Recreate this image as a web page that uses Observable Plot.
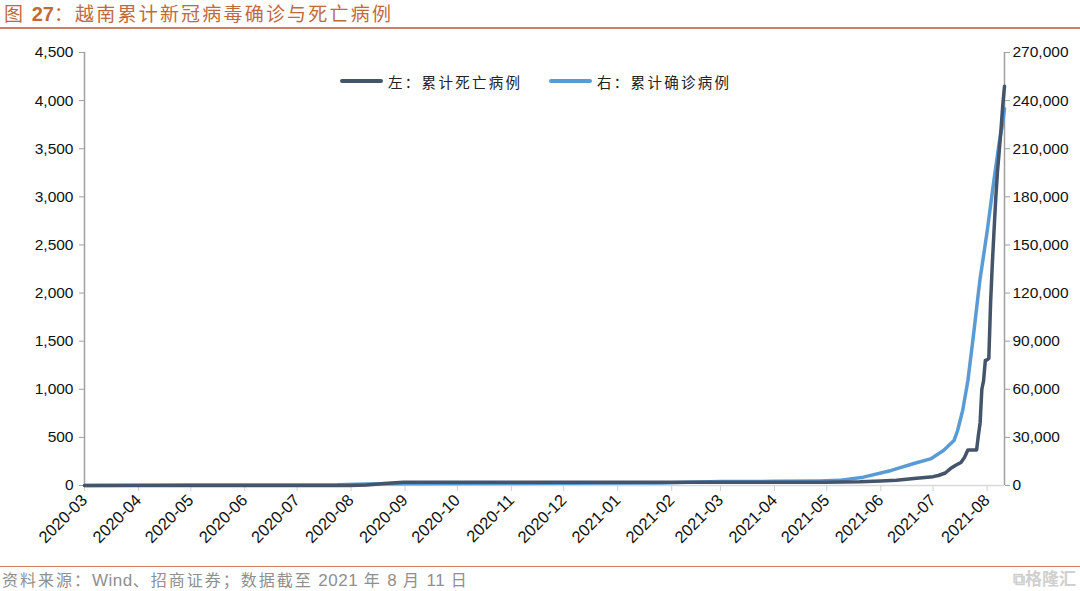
<!DOCTYPE html>
<html><head><meta charset="utf-8">
<script src="https://cdn.jsdelivr.net/npm/d3@7"></script>
<script src="https://cdn.jsdelivr.net/npm/@observablehq/plot@0.6"></script>
<style>
body{margin:0;background:#fff;}
#wrap{position:relative;width:1080px;height:591px;overflow:hidden;font-family:"Liberation Sans",Arial,sans-serif;background:#fff;}
#title{position:absolute;left:4px;top:1px;font-size:19px;line-height:24px;color:#BF6A3D;white-space:nowrap;font-family:"Noto Sans CJK SC",sans-serif;letter-spacing:2.2px;}
#title b{font-family:"Liberation Sans",Arial,sans-serif;font-size:20px;letter-spacing:0;}
#tline{position:absolute;left:0;top:27px;width:1080px;height:2px;background:#C98063;}
#chart{position:absolute;left:0;top:30px;}
.leg{position:absolute;top:71px;font-size:14.5px;color:#222;font-family:"Noto Sans CJK SC",sans-serif;letter-spacing:2.3px;white-space:nowrap;}
.sw{position:absolute;top:79px;height:4px;border-radius:2px;}
#fline{position:absolute;left:0;top:566px;width:1080px;height:1px;background:#C98063;}
#source{position:absolute;left:2px;top:569px;font-size:16px;line-height:20px;color:#8f8f8f;font-family:"Noto Sans CJK SC",sans-serif;letter-spacing:2px;white-space:nowrap;}
#source span{font-family:"Liberation Sans",Arial,sans-serif;font-size:17px;letter-spacing:0.5px;}
#wm{position:absolute;right:4px;top:567px;font-size:17px;line-height:22px;color:#d0d0d0;font-family:"Noto Sans CJK SC",sans-serif;font-weight:bold;}
</style></head>
<body><div id="wrap">
<div id="title">图 <b>27</b>：越南累计新冠病毒确诊与死亡病例</div>
<div id="tline"></div>
<div id="chart"></div>
<div class="sw" style="left:340px;width:43px;background:#44546A"></div>
<div class="leg" style="left:388px">左：累计死亡病例</div>
<div class="sw" style="left:549px;width:43px;background:#5B9BD5"></div>
<div class="leg" style="left:597px">右：累计确诊病例</div>
<div id="fline"></div>
<div id="source">资料来源：<span>Wind</span>、招商证券；数据截至 <span>2021</span> 年 <span>8</span> 月 <span>11</span> 日</div>
<div id="wm">⧉格隆汇</div>
</div>
<script>
// ---- data ----
const deathDates = ["2020-03-01","2020-07-31","2020-08-10","2020-08-20","2020-08-31","2020-09-10","2021-04-30","2021-05-20","2021-06-01","2021-06-10","2021-06-20","2021-07-01","2021-07-04","2021-07-08","2021-07-11","2021-07-14","2021-07-17","2021-07-19","2021-07-20","2021-07-21","2021-07-26","2021-07-27","2021-07-28","2021-07-29","2021-07-30","2021-07-31","2021-08-01","2021-08-02","2021-08-03","2021-08-04","2021-08-05","2021-08-06","2021-08-07","2021-08-08","2021-08-09","2021-08-10","2021-08-11"];
const deathValues = [0,0,5,20,33,35,35,38,47,55,72,92,104,130,176,210,240,290,330,370,370,520,650,1000,1090,1300,1306,1320,1890,2300,2650,2990,3270,3480,3700,3950,4150];

const caseDates = ["2020-03-01","2020-03-31","2020-05-01","2020-07-24","2020-08-10","2020-09-01","2020-12-01","2021-01-27","2021-02-10","2021-03-01","2021-04-01","2021-04-27","2021-05-08","2021-05-22","2021-06-07","2021-06-20","2021-06-30","2021-07-07","2021-07-13","2021-07-15","2021-07-18","2021-07-21","2021-07-24","2021-07-27","2021-07-28","2021-08-01","2021-08-05","2021-08-08","2021-08-10","2021-08-11"];
const caseValues = [16,207,270,420,860,1046,1347,1550,2050,2450,2600,2850,3200,5200,9400,13700,16800,21800,28000,34000,46800,65500,92000,120000,129000,158000,191000,214000,226000,235000];

const xTickLabels = ["2020-03","2020-04","2020-05","2020-06","2020-07","2020-08","2020-09","2020-10","2020-11","2020-12","2021-01","2021-02","2021-03","2021-04","2021-05","2021-06","2021-07","2021-08"];
const leftTicks = [0,500,1000,1500,2000,2500,3000,3500,4000,4500];
const rightTicks = [0,30000,60000,90000,120000,150000,180000,210000,240000,270000];
const xStart = "2020-03-01", xEnd = "2021-08-11";

// ---- build tables ----
const ratio = rightTicks[rightTicks.length-1] / leftTicks[leftTicks.length-1];
const parse = d3.utcParse("%Y-%m-%d");
const deaths = deathDates.map((d,i)=>({date:parse(d), v:deathValues[i]}));
const cases = caseDates.map((d,i)=>({date:parse(d), v:caseValues[i]}));
const xTicks = xTickLabels.map(s=>parse(s+"-01"));
const fmt = d3.format(",");

const chart = Plot.plot({
  width:1080, height:530,
  marginLeft:84, marginRight:76, marginTop:22, marginBottom:75,
  style:{fontFamily:'"Liberation Sans", Arial, sans-serif', fontSize:"15px", color:"#111", background:"#fff"},
  x:{type:"utc", domain:[parse(xStart), parse(xEnd)]},
  y:{domain:[0, leftTicks[leftTicks.length-1]]},
  marks:[
    Plot.ruleY([0], {stroke:"#d9d9d9", strokeWidth:1.5}),
    Plot.axisX(xTicks, {tickFormat:d3.utcFormat("%Y-%m"), tickRotate:-45, tickSize:6, tickPadding:6, stroke:"#d0d0d0", fill:"#111", fontSize:16.5, label:null}),
    Plot.ruleX([parse(xStart)], {stroke:"#a0a0a0", strokeWidth:1.5}),
    Plot.ruleX([parse(xEnd)], {stroke:"#a0a0a0", strokeWidth:1.5}),
    Plot.axisY(leftTicks, {anchor:"left", tickSize:5, tickPadding:6, stroke:"#a0a0a0", fill:"#111", tickFormat:fmt, fontSize:15.5, label:null}),
    Plot.axisY(rightTicks.map(v=>v/ratio), {anchor:"right", tickSize:5, tickPadding:3, stroke:"#a0a0a0", fill:"#111", tickFormat:d=>fmt(Math.round(d*ratio)), fontSize:15.5, label:null}),
    Plot.line(cases, {x:"date", y:d=>d.v/ratio, stroke:"#5B9BD5", strokeWidth:3.5, strokeLinejoin:"round"}),
    Plot.line(deaths, {x:"date", y:"v", stroke:"#44546A", strokeWidth:3.5, strokeLinejoin:"round"})
  ]
});
document.getElementById("chart").appendChild(chart);
</script>
</body></html>
